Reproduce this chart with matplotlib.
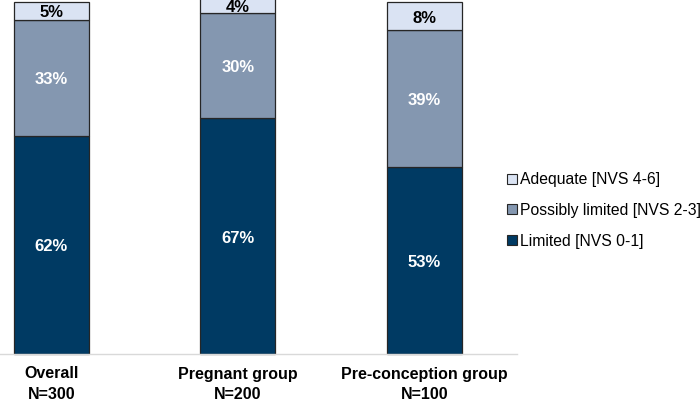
import matplotlib.pyplot as plt
from matplotlib.patches import Patch

plt.rcParams['font.family'] = ['Liberation Sans', 'DejaVu Sans']

# Data
groups = ['Overall\nN=300', 'Pregnant group\nN=200', 'Pre-conception group\nN=100']
limited = [62, 67, 53]
possibly = [33, 30, 39]
adequate = [5, 4, 8]

series = ['Limited [NVS 0-1]', 'Possibly limited [NVS 2-3]', 'Adequate [NVS 4-6]']
colors = ['#003a63', '#8497b0', '#dae3f3']
txt_colors = ['white', 'white', 'black']

fig = plt.figure(figsize=(7, 4.04), dpi=100)
ax = fig.add_axes([0.0, 50 / 404, 517 / 700, 352 / 404])

x = range(len(groups))
bottom = [0, 0, 0]
for vals, col, tc in zip([limited, possibly, adequate], colors, txt_colors):
    bars = ax.bar(x, vals, width=0.402, bottom=bottom, color=col,
                  edgecolor='#262626', linewidth=0.9, clip_on=False)
    for b, v, bt in zip(bars, vals, bottom):
        ax.text(b.get_x() + b.get_width() / 2, bt + v / 2 - 0.6, '%d%%' % v,
                ha='center', va='center', color=tc, fontsize=12,
                fontweight='bold', clip_on=False)
    bottom = [a + b for a, b in zip(bottom, vals)]

ax.set_xlim(-0.276, 2.496)
ax.set_ylim(0, 100)
for s in ['top', 'right', 'left']:
    ax.spines[s].set_visible(False)
ax.spines['bottom'].set_color('#d9d9d9')
ax.spines['bottom'].set_linewidth(1)
ax.set_yticks([])
ax.set_xticks(list(x))
ax.set_xticklabels(groups, fontsize=11.5, fontweight='bold', linespacing=1.45)
ax.tick_params(axis='x', length=0, pad=9)

handles = [Patch(facecolor=c, edgecolor='#262626', linewidth=0.8) for c in colors]
leg = fig.legend(handles[::-1], series[::-1], loc='upper left',
                 bbox_to_anchor=(493 / 700, 1 - 158 / 404), frameon=False,
                 fontsize=11.3, handlelength=0.6, handleheight=0.6,
                 handletextpad=0.25, labelspacing=1.0)

fig.savefig('out.png', dpi=100)
